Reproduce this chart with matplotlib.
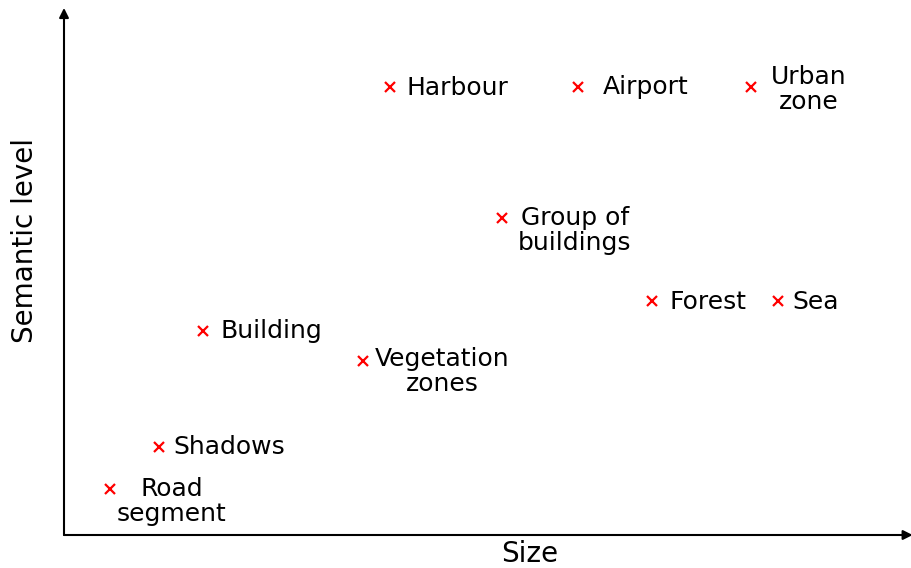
import numpy as np
from matplotlib import pyplot as plt

# concepts placed by size (x) and semantic level (y)
labels = ['Road\nsegment', 'Shadows', 'Building', 'Vegetation\nzones',
          'Group of\nbuildings', 'Forest', 'Sea', 'Harbour', 'Airport',
          'Urban\nzone']
size = [0.54, 1.12, 1.64, 3.53, 5.17, 6.94, 8.43, 3.85, 6.07, 8.11]
level = [0.88, 1.68, 3.87, 3.30, 6.02, 4.44, 4.44, 8.51, 8.51, 8.51]

# label placement, in pixels from the marker
offsets = [(62, -13), (15, 0), (18, 0), (79, -10), (73, -12),
           (18, -1), (14, -1), (16, -1), (25, 0), (58, -2)]

fig = plt.figure(figsize=(9.11, 5.68), dpi=100)
ax = fig.add_axes([64/911, 33/568, 847/911, 526/568])
ax.set_xlim(0, 10)
ax.set_ylim(0, 10)
for s in ax.spines.values():
    s.set_visible(False)
ax.set_xticks([])
ax.set_yticks([])

# axes drawn as arrows
arrow = dict(arrowstyle='-|>', color='black', lw=1.5, mutation_scale=14,
             shrinkA=0, shrinkB=0)
ax.annotate('', xy=(1.002, 0), xytext=(0, 0), xycoords='axes fraction',
            arrowprops=arrow, annotation_clip=False)
ax.annotate('', xy=(0, 1.002), xytext=(0, 0), xycoords='axes fraction',
            arrowprops=arrow, annotation_clip=False)

ax.plot(size, level, 'x', color='red', markersize=7, mew=1.6, clip_on=False)

for lab, x, y, off in zip(labels, size, level, offsets):
    if '\n' in lab:
        ax.annotate(lab, (x, y), xytext=off, textcoords='offset pixels',
                    ha='center', va='center', multialignment='center',
                    fontsize=18, linespacing=1.05)
    else:
        ax.annotate(lab, (x, y), xytext=off, textcoords='offset pixels',
                    ha='left', va='center', fontsize=18)

fig.text(530/911, 1 - 554/568, 'Size', ha='center', va='center', fontsize=20)
fig.text(25/911, 1 - 241/568, 'Semantic level', ha='center', va='center',
         rotation=90, fontsize=20)

fig.savefig('out.png', dpi=100)
